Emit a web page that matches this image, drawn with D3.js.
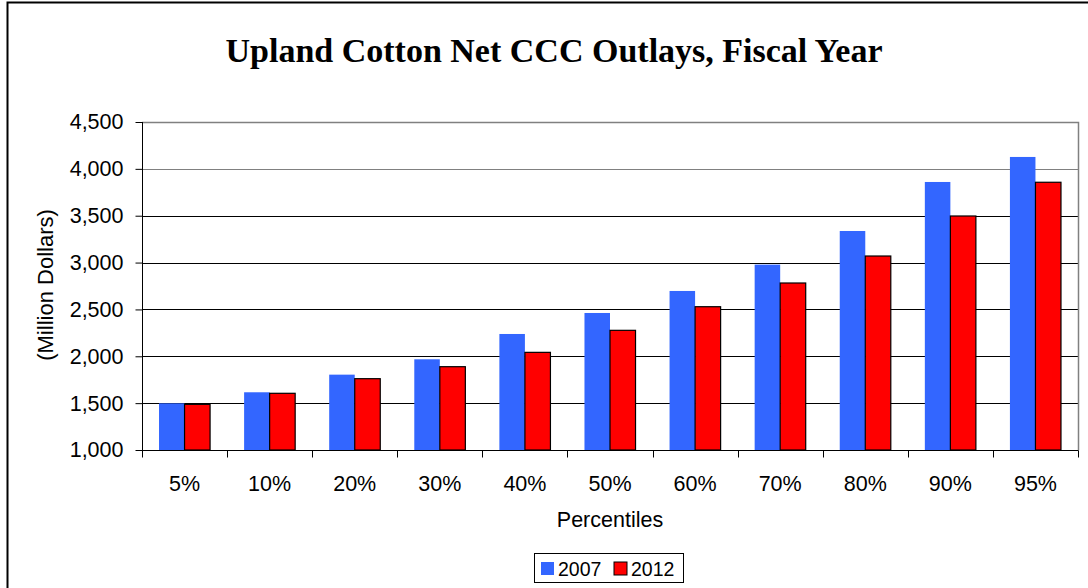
<!DOCTYPE html>
<html><head><meta charset="utf-8">
<script src="https://cdn.jsdelivr.net/npm/d3@7"></script>
<style>body{margin:0;background:#fff}svg{display:block}</style>
</head><body>
<svg id="c" width="1088" height="588"></svg>
<script>
const categories = ["5%","10%","20%","30%","40%","50%","60%","70%","80%","90%","95%"];
const series2007 = [1498,1616,1804,1968,2238,2462,2697,2978,3337,3860,4127];
const series2012 = [1487,1605,1761,1889,2042,2277,2529,2782,3070,3497,3857];
const seriesNames = ["2007","2012"];
const yTicks = [1000,1500,2000,2500,3000,3500,4000,4500];

const svg = d3.select("#c");
const FONT = "Liberation Sans, Arial, sans-serif";
const m = {l:142, r:1078, t:122, b:450};
const x = d3.scaleBand().domain(categories).range([m.l, m.r]).paddingInner(0.4).paddingOuter(0.2);
const x0 = d3.scaleBand().domain(categories).range([m.l, m.r]);
const xs = d3.scaleBand().domain(seriesNames).range([0, x.bandwidth()]);
const y = d3.scaleLinear().domain([1000,4500]).range([m.b, m.t]);

// outer border (cropped)
svg.append("rect").attr("x",7.5).attr("y",2.5).attr("width",1200).attr("height",700)
  .attr("fill","none").attr("stroke","#000").attr("stroke-width",2);

// title
svg.append("text").attr("x",554).attr("y",62).attr("text-anchor","middle")
  .attr("font-family","Liberation Serif, Times New Roman, serif").attr("font-weight","bold")
  .attr("font-size",34).text("Upland Cotton Net CCC Outlays, Fiscal Year");

// gridlines
svg.append("g").selectAll("line").data(yTicks.slice(1)).join("line")
  .attr("x1",m.l).attr("x2",m.r).attr("y1",d=>Math.round(y(d))+0.5).attr("y2",d=>Math.round(y(d))+0.5)
  .attr("stroke",d=>d>=4000?"#808080":"#000").attr("stroke-width",1);
// plot border top/right
svg.append("path").attr("d",`M${m.l},${m.t+0.5}H${m.r+0.5}V${m.b}`).attr("fill","none").attr("stroke","#808080").attr("stroke-width",1.5);

// bars
const data = categories.map((c,i)=>({c, v:[series2007[i],series2012[i]]}));
const g = svg.append("g");
g.selectAll("rect.b07").data(data).join("rect").attr("class","b07")
  .attr("x",d=>x(d.c)+xs("2007")).attr("width",xs.bandwidth())
  .attr("y",d=>y(d.v[0])).attr("height",d=>y(1000)-y(d.v[0])).attr("fill","#3366ff");
g.selectAll("rect.b12").data(data).join("rect").attr("class","b12")
  .attr("x",d=>x(d.c)+xs("2012")).attr("width",xs.bandwidth())
  .attr("y",d=>y(d.v[1])).attr("height",d=>y(1000)-y(d.v[1])).attr("fill","#ff0000")
  .attr("stroke","#000").attr("stroke-width",1.2);

// y axis
const yAxis = d3.axisLeft(y).tickValues(yTicks).tickSize(7).tickPadding(12).tickFormat(d3.format(","));
const ya = svg.append("g").attr("transform",`translate(${m.l+0.5},0)`).call(yAxis);
ya.select(".domain").attr("d",`M0,${m.t}V${m.b}`).attr("stroke","#000");
ya.selectAll("text").attr("font-family",FONT).attr("font-size",21.5).attr("fill","#000");

// x axis
const xa = svg.append("g").attr("transform",`translate(0,${m.b+0.5})`);
xa.append("line").attr("x1",m.l).attr("x2",m.r+0.5).attr("stroke","#000");
xa.selectAll("line.t").data(d3.range(categories.length+1)).join("line").attr("class","t")
  .attr("x1",i=>Math.round(m.l+i*x0.step())+0.5).attr("x2",i=>Math.round(m.l+i*x0.step())+0.5)
  .attr("y1",0).attr("y2",7).attr("stroke","#000");
xa.selectAll("text").data(categories).join("text")
  .attr("x",d=>x0(d)+x0.bandwidth()/2).attr("y",40).attr("text-anchor","middle")
  .attr("font-family",FONT).attr("font-size",21.5).text(d=>d);

// axis titles
svg.append("text").attr("x",610).attr("y",527).attr("text-anchor","middle")
  .attr("font-family",FONT).attr("font-size",21.5).text("Percentiles");
svg.append("text").attr("transform","translate(53,285) rotate(-90)").attr("text-anchor","middle")
  .attr("font-family",FONT).attr("font-size",22).text("(Million Dollars)");

// legend
const lg = svg.append("g");
lg.append("rect").attr("x",534.5).attr("y",553.5).attr("width",149).attr("height",29).attr("fill","#fff").attr("stroke","#000");
const items = [{n:seriesNames[0], c:"#3366ff", s:false, x:541},{n:seriesNames[1], c:"#ff0000", s:true, x:614}];
items.forEach(it=>{
  lg.append("rect").attr("x",it.x).attr("y",562).attr("width",13).attr("height",13).attr("fill",it.c)
    .attr("stroke",it.s?"#000":"none");
  lg.append("text").attr("x",it.x+17).attr("y",576).attr("font-family",FONT)
    .attr("font-size",19.5).text(it.n);
});
</script>
</body></html>
